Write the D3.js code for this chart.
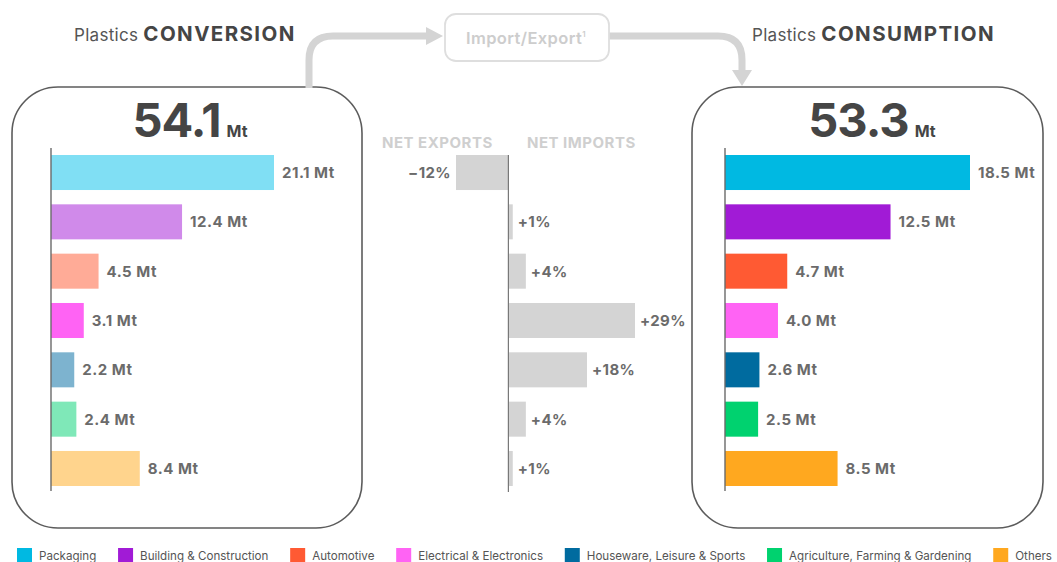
<!DOCTYPE html>
<html>
<head>
<meta charset="utf-8">
<script src="https://cdn.jsdelivr.net/npm/d3@7"></script>
<style>
  html, body { margin: 0; padding: 0; background: #fff; }
  svg { display: block; font-family: Inter, "Open Sans", sans-serif; }
</style>
</head>
<body>
<svg id="chart" width="1057" height="562"></svg>
<script>
// Application sectors (same order in all three panels)
const categories = [
  "Packaging",
  "Building & Construction",
  "Automotive",
  "Electrical & Electronics",
  "Houseware, Leisure & Sports",
  "Agriculture, Farming & Gardening",
  "Others"
];

// Plastics conversion by sector, Mt
const conversionValues = [21.1, 12.4, 4.5, 3.1, 2.2, 2.4, 8.4];
const conversionTotal = 54.1;

// Plastics consumption by sector, Mt
const consumptionValues = [18.5, 12.5, 4.7, 4.0, 2.6, 2.5, 8.5];
const consumptionTotal = 53.3;

// Net trade balance per sector, % (negative = net exports)
const netTradeValues = [-12, 1, 4, 29, 18, 4, 1];

// Sector colours: strong for consumption, pale for conversion
const consumptionColors = ["#00b9e2", "#a11bd6", "#ff5a33", "#ff63f4", "#006b9f", "#00d26f", "#ffa81f"];
const conversionColors  = ["#80dff4", "#d08aea", "#ffab97", "#ff63f4", "#7db3cf", "#7fe8b8", "#ffd48d"];

const svg = d3.select("#chart");

const y = d3.scaleBand()
  .domain(categories)
  .range([155, 486])
  .paddingInner(0.29)
  .paddingOuter(0);

const labelColor = "#6b6b6b";
const darkText = "#454545";

// ---- rounded panel frames ----
function panel(x0, x1) {
  svg.append("rect")
    .attr("x", x0).attr("y", 87)
    .attr("width", x1 - x0).attr("height", 441)
    .attr("rx", 46).attr("ry", 46)
    .attr("fill", "none")
    .attr("stroke", "#5c5c5c")
    .attr("stroke-width", 1.6);
}

// ---- a horizontal bar panel ----
function barPanel(values, colors, xScale) {
  const g = svg.append("g");
  g.selectAll("rect.bar")
    .data(values)
    .join("rect")
    .attr("class", "bar")
    .attr("x", xScale(0))
    .attr("y", (d, i) => y(categories[i]))
    .attr("width", d => xScale(d) - xScale(0))
    .attr("height", y.bandwidth())
    .attr("fill", (d, i) => colors[i]);

  g.selectAll("text.val")
    .data(values)
    .join("text")
    .attr("class", "val")
    .attr("x", d => xScale(d) + 8)
    .attr("y", (d, i) => y(categories[i]) + y.bandwidth() / 2)
    .attr("dy", "0.36em")
    .attr("fill", labelColor)
    .attr("font-size", 15)
    .attr("font-weight", 700)
    .attr("letter-spacing", 0.5)
    .text(d => d3.format(".1f")(d) + " Mt");

  g.append("line")
    .attr("x1", xScale(0)).attr("x2", xScale(0))
    .attr("y1", 148).attr("y2", 491)
    .attr("stroke", "#6a6a6a").attr("stroke-width", 1.4);
}

// ---- big total figure ----
function totalFigure(cx, value) {
  const t = svg.append("text")
    .attr("x", cx).attr("y", 137)
    .attr("text-anchor", "middle")
    .attr("fill", darkText)
    .attr("font-weight", 700);
  t.append("tspan").attr("font-size", 47).attr("letter-spacing", -1).text(d3.format(".1f")(value));
  t.append("tspan").attr("font-size", 16).attr("dx", 6).text("Mt");
}

// ---- section heading ----
function heading(x, bold) {
  const t = svg.append("text").attr("x", x).attr("y", 41);
  t.append("tspan").attr("font-size", 17).attr("letter-spacing", 0.3).attr("fill", "#555").text("Plastics ");
  t.append("tspan").attr("font-size", 20.5).attr("letter-spacing", 1.4)
    .attr("font-weight", 700).attr("fill", darkText).text(bold);
}

// Conversion panel
panel(12, 362);
const xConv = d3.scaleLinear().domain([0, 21.1]).range([51, 274]);
barPanel(conversionValues, conversionColors, xConv);
totalFigure(190, conversionTotal);
heading(74, "CONVERSION");

// Consumption panel
panel(692, 1043);
const xCons = d3.scaleLinear().domain([0, 18.5]).range([725, 970]);
barPanel(consumptionValues, consumptionColors, xCons);
totalFigure(872, consumptionTotal);
heading(752, "CONSUMPTION");

// ---- net trade diverging bars ----
const xNet = d3.scaleLinear().domain([-12, 29]).range([456, 635]);
const net = svg.append("g");
net.selectAll("rect")
  .data(netTradeValues)
  .join("rect")
  .attr("x", d => Math.min(xNet(0), xNet(d)))
  .attr("y", (d, i) => y(categories[i]))
  .attr("width", d => Math.abs(xNet(d) - xNet(0)))
  .attr("height", y.bandwidth())
  .attr("fill", "#d4d4d4");
net.selectAll("text")
  .data(netTradeValues)
  .join("text")
  .attr("x", d => d < 0 ? xNet(d) - 5 : xNet(d) + 5)
  .attr("y", (d, i) => y(categories[i]) + y.bandwidth() / 2)
  .attr("dy", "0.36em")
  .attr("text-anchor", d => d < 0 ? "end" : "start")
  .attr("fill", labelColor)
  .attr("font-size", 15)
  .attr("font-weight", 700)
  .attr("letter-spacing", 0.4)
  .text(d => (d < 0 ? "\u2212" : "+") + Math.abs(d) + "%");
net.append("line")
  .attr("x1", xNet(0)).attr("x2", xNet(0))
  .attr("y1", 155).attr("y2", 492)
  .attr("stroke", "#777").attr("stroke-width", 1.2);

svg.append("text")
  .attr("x", xNet(0) - 71).attr("y", 148)
  .attr("text-anchor", "middle")
  .attr("fill", "#cfcfcf").attr("font-size", 15).attr("font-weight", 700)
  .attr("letter-spacing", 0.5)
  .text("NET EXPORTS");
svg.append("text")
  .attr("x", xNet(0) + 73).attr("y", 148)
  .attr("text-anchor", "middle")
  .attr("fill", "#cfcfcf").attr("font-size", 15).attr("font-weight", 700)
  .attr("letter-spacing", 0.5)
  .text("NET IMPORTS");

// ---- flow connectors and Import/Export box ----
const flowColor = "#d4d4d4";
svg.append("path")
  .attr("d", "M309,88 L309,60 Q309,36 333,36 L428,36")
  .attr("fill", "none").attr("stroke", flowColor).attr("stroke-width", 7);
svg.append("path")
  .attr("d", "M426,27 L443,36 L426,45 Z")
  .attr("fill", flowColor);

svg.append("path")
  .attr("d", "M609,36 L718,36 Q742,36 742,60 L742,72")
  .attr("fill", "none").attr("stroke", flowColor).attr("stroke-width", 7);
svg.append("path")
  .attr("d", "M732,70 L752,70 L742,86 Z")
  .attr("fill", flowColor);

svg.append("rect")
  .attr("x", 445).attr("y", 14)
  .attr("width", 164).attr("height", 47)
  .attr("rx", 11).attr("ry", 11)
  .attr("fill", "#fff")
  .attr("stroke", "#dedede").attr("stroke-width", 1.8);
const ie = svg.append("text")
  .attr("x", 526).attr("y", 44)
  .attr("text-anchor", "middle")
  .attr("fill", "#cdcdcd").attr("font-size", 16.5).attr("font-weight", 600)
  .attr("letter-spacing", 0.4);
ie.append("tspan").text("Import/Export");
ie.append("tspan").attr("font-size", 8).attr("dy", -7).text("1");

// ---- legend ----
const legend = svg.append("g");
const items = legend.selectAll("g")
  .data(categories)
  .join("g");
items.append("rect")
  .attr("width", 15).attr("height", 15)
  .attr("y", 548)
  .attr("fill", (d, i) => consumptionColors[i]);
items.append("text")
  .attr("x", 22).attr("y", 560)
  .attr("fill", "#555").attr("font-size", 11.6)
  .text(d => d);

// lay legend entries out in one row spanning the page width
const widths = items.nodes().map(n => 22 + n.querySelector("text").getComputedTextLength());
const startX = 17, endX = 1052;
const gap = (endX - startX - d3.sum(widths)) / (widths.length - 1);
let cursor = startX;
items.each(function(d, i) {
  d3.select(this).attr("transform", `translate(${cursor},0)`);
  cursor += widths[i] + gap;
});
</script>
</body>
</html>
